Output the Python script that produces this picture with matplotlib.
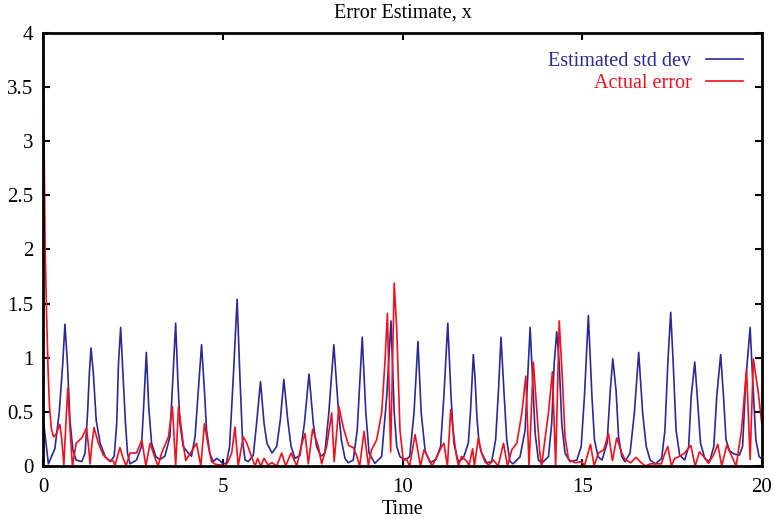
import matplotlib
matplotlib.use("Agg")
import matplotlib.pyplot as plt

title = "Error Estimate, x"
xlabel = "Time"
series_labels = ["Estimated std dev", "Actual error"]
xticks = [0, 5, 10, 15, 20]
yticks = [0, 0.5, 1, 1.5, 2, 2.5, 3, 3.5, 4]

blue_points = [
    (0.00, 0.45), (0.15, 0.02), (0.33, 0.16), (0.45, 0.49), (0.55, 0.95), (0.61, 1.31),
    (0.68, 0.95), (0.75, 0.42), (0.83, 0.15), (0.92, 0.055), (1.08, 0.04), (1.17, 0.12),
    (1.24, 0.49), (1.29, 0.86), (1.335, 1.09), (1.40, 0.86), (1.48, 0.42), (1.59, 0.21),
    (1.73, 0.086), (1.87, 0.04), (1.98, 0.09), (2.05, 0.39), (2.10, 0.95), (2.16, 1.28),
    (2.21, 0.95), (2.29, 0.42), (2.35, 0.12), (2.42, 0.02), (2.60, 0.055), (2.74, 0.18),
    (2.80, 0.55), (2.875, 1.05), (2.94, 0.55), (3.02, 0.21), (3.14, 0.086), (3.25, 0.06),
    (3.39, 0.09), (3.53, 0.27), (3.61, 0.80), (3.69, 1.32), (3.75, 0.80), (3.81, 0.39),
    (3.90, 0.18), (4.04, 0.12), (4.13, 0.09), (4.23, 0.27), (4.32, 0.70), (4.41, 1.12),
    (4.49, 0.70), (4.55, 0.33), (4.64, 0.12), (4.73, 0.04), (4.83, 0.07), (4.92, 0.05),
    (5.00, 0.02), (5.10, 0.025), (5.19, 0.18), (5.29, 0.80), (5.40, 1.54), (5.48, 0.80),
    (5.55, 0.24), (5.62, 0.055), (5.71, 0.04), (5.85, 0.10), (5.94, 0.39), (6.05, 0.78),
    (6.15, 0.39), (6.23, 0.21), (6.37, 0.12), (6.50, 0.18), (6.60, 0.42), (6.70, 0.80),
    (6.81, 0.42), (6.90, 0.18), (7.01, 0.07), (7.15, 0.10), (7.27, 0.39), (7.40, 0.85),
    (7.52, 0.39), (7.61, 0.18), (7.73, 0.09), (7.84, 0.12), (7.95, 0.49), (8.09, 1.12),
    (8.21, 0.55), (8.30, 0.24), (8.40, 0.07), (8.49, 0.03), (8.63, 0.055), (8.74, 0.33),
    (8.88, 1.19), (8.98, 0.49), (9.07, 0.12), (9.23, 0.025), (9.42, 0.086), (9.56, 0.64),
    (9.68, 1.34), (9.77, 0.49), (9.84, 0.18), (9.93, 0.086), (10.07, 0.055), (10.20, 0.086),
    (10.32, 0.49), (10.43, 1.15), (10.52, 0.49), (10.63, 0.14), (10.77, 0.03), (10.93, 0.06),
    (11.06, 0.18), (11.15, 0.64), (11.26, 1.32), (11.35, 0.64), (11.43, 0.21), (11.55, 0.04),
    (11.69, 0.07), (11.83, 0.21), (11.89, 0.49), (11.97, 1.03), (12.02, 0.80), (12.07, 0.45),
    (12.13, 0.21), (12.20, 0.12), (12.34, 0.03), (12.48, 0.04), (12.59, 0.24), (12.67, 0.70),
    (12.74, 1.19), (12.82, 0.70), (12.90, 0.24), (12.99, 0.04), (13.08, 0.02), (13.27, 0.086),
    (13.41, 0.33), (13.48, 0.80), (13.55, 1.28), (13.62, 0.80), (13.69, 0.30), (13.78, 0.055),
    (13.87, 0.025), (14.06, 0.086), (14.15, 0.39), (14.22, 0.95), (14.29, 1.24), (14.36, 0.95),
    (14.43, 0.39), (14.52, 0.12), (14.66, 0.04), (14.85, 0.055), (14.97, 0.18), (15.06, 0.64),
    (15.17, 1.39), (15.27, 0.64), (15.34, 0.24), (15.44, 0.086), (15.55, 0.055), (15.69, 0.21),
    (15.78, 0.70), (15.85, 0.99), (15.94, 0.70), (16.01, 0.27), (16.10, 0.086), (16.19, 0.04),
    (16.33, 0.12), (16.45, 0.49), (16.57, 1.05), (16.68, 0.49), (16.78, 0.18), (16.89, 0.055),
    (17.03, 0.02), (17.21, 0.07), (17.30, 0.33), (17.38, 0.95), (17.46, 1.42), (17.53, 0.95),
    (17.61, 0.33), (17.71, 0.10), (17.85, 0.055), (17.96, 0.18), (18.03, 0.64), (18.13, 0.96),
    (18.20, 0.64), (18.29, 0.21), (18.41, 0.07), (18.54, 0.04), (18.66, 0.18), (18.74, 0.64),
    (18.85, 1.03), (18.93, 0.64), (19.00, 0.24), (19.10, 0.14), (19.23, 0.11), (19.37, 0.10),
    (19.46, 0.18), (19.55, 0.80), (19.67, 1.28), (19.74, 0.80), (19.83, 0.24), (19.92, 0.086),
    (20.00, 0.065),
]

red_points = [
    (0.00, 4.00), (0.03, 3.00), (0.06, 2.00), (0.10, 1.40), (0.14, 0.90), (0.18, 0.55),
    (0.23, 0.35), (0.29, 0.27), (0.36, 0.29), (0.47, 0.385), (0.52, 0.25), (0.58, 0.01),
    (0.63, 0.35), (0.69, 0.72), (0.75, 0.35), (0.82, 0.00), (0.92, 0.21), (1.08, 0.26),
    (1.21, 0.35), (1.26, 0.20), (1.31, 0.02), (1.36, 0.20), (1.42, 0.354), (1.54, 0.21),
    (1.68, 0.10), (1.82, 0.055), (1.96, 0.046), (2.00, 0.00), (2.08, 0.10), (2.14, 0.17),
    (2.22, 0.08), (2.31, 0.00), (2.42, 0.12), (2.60, 0.12), (2.75, 0.24), (2.86, 0.00),
    (2.98, 0.21), (3.10, 0.09), (3.20, 0.00), (3.30, 0.12), (3.49, 0.27), (3.60, 0.55),
    (3.69, 0.00), (3.77, 0.55), (3.90, 0.21), (3.97, 0.05), (4.10, 0.12), (4.27, 0.21),
    (4.39, 0.00), (4.49, 0.39), (4.60, 0.18), (4.69, 0.04), (4.80, 0.015), (4.95, 0.01),
    (5.06, 0.00), (5.15, 0.04), (5.25, 0.12), (5.34, 0.36), (5.43, 0.00), (5.57, 0.27),
    (5.67, 0.21), (5.80, 0.086), (5.90, 0.00), (5.97, 0.07), (6.06, 0.00), (6.15, 0.07),
    (6.26, 0.01), (6.37, 0.03), (6.50, 0.00), (6.64, 0.12), (6.75, 0.00), (6.90, 0.12),
    (7.06, 0.00), (7.20, 0.21), (7.29, 0.30), (7.38, 0.02), (7.50, 0.34), (7.66, 0.18),
    (7.75, 0.02), (7.89, 0.18), (8.03, 0.49), (8.10, 0.04), (8.23, 0.55), (8.35, 0.36),
    (8.50, 0.19), (8.63, 0.17), (8.72, 0.10), (8.81, 0.00), (8.93, 0.32), (9.05, 0.01),
    (9.14, 0.15), (9.28, 0.24), (9.42, 0.49), (9.51, 0.95), (9.58, 1.41), (9.67, 0.13),
    (9.77, 1.69), (9.84, 1.26), (9.93, 0.33), (10.02, 0.055), (10.10, 0.07), (10.20, 0.00),
    (10.35, 0.29), (10.50, 0.00), (10.60, 0.15), (10.77, 0.04), (10.82, 0.00), (10.90, 0.05),
    (11.09, 0.18), (11.15, 0.21), (11.25, 0.00), (11.34, 0.52), (11.43, 0.27), (11.50, 0.09),
    (11.56, 0.00), (11.64, 0.09), (11.80, 0.04), (11.85, 0.00), (11.95, 0.16), (12.00, 0.00),
    (12.11, 0.26), (12.20, 0.12), (12.30, 0.035), (12.40, 0.01), (12.53, 0.055), (12.66, 0.00),
    (12.81, 0.21), (12.92, 0.00), (13.04, 0.15), (13.18, 0.21), (13.32, 0.49), (13.43, 0.83),
    (13.52, 0.00), (13.64, 0.96), (13.74, 0.49), (13.82, 0.12), (13.87, 0.00), (13.96, 0.24),
    (14.06, 0.49), (14.17, 0.87), (14.26, 0.00), (14.36, 1.34), (14.45, 0.79), (14.52, 0.27),
    (14.62, 0.06), (14.80, 0.03), (14.99, 0.04), (15.06, 0.00), (15.23, 0.20), (15.33, 0.00),
    (15.45, 0.12), (15.60, 0.15), (15.73, 0.30), (15.84, 0.05), (15.96, 0.26), (16.10, 0.12),
    (16.19, 0.06), (16.35, 0.03), (16.50, 0.08), (16.61, 0.04), (16.75, 0.00), (16.90, 0.02),
    (17.20, 0.02), (17.30, 0.12), (17.38, 0.18), (17.48, 0.00), (17.57, 0.07), (17.71, 0.09),
    (17.85, 0.12), (18.02, 0.19), (18.14, 0.00), (18.26, 0.13), (18.37, 0.09), (18.51, 0.025),
    (18.65, 0.10), (18.77, 0.20), (18.88, 0.00), (19.02, 0.19), (19.16, 0.09), (19.28, 0.00),
    (19.43, 0.33), (19.57, 0.89), (19.67, 0.06), (19.76, 0.99), (19.90, 0.67), (20.00, 0.37),
]

blue_t = [p[0] for p in blue_points]
blue_v = [p[1] for p in blue_points]
red_t = [p[0] for p in red_points]
red_v = [p[1] for p in red_points]

plt.rcParams['font.family'] = ['Liberation Serif', 'DejaVu Serif']

fig = plt.figure(figsize=(7.74, 5.19), dpi=100)
ax = fig.add_axes([43 / 774, 1 - 466 / 519, (762 - 43) / 774, (466 - 33) / 519])

blue_c = '#2a2a96'
red_c = '#f0101e'
ax.plot(blue_t, blue_v, color=blue_c, lw=1.2, label=series_labels[0], zorder=2,
        solid_joinstyle='round')
ax.plot(red_t, red_v, color=red_c, lw=1.2, label=series_labels[1], zorder=3,
        solid_joinstyle='round')

ax.set_xlim(0, 20)
ax.set_ylim(0, 4)
ax.set_xticks(xticks)
ax.set_xticklabels([str(v) for v in xticks])
ax.set_yticks(yticks)
ax.set_yticklabels([('%g' % v) for v in yticks])
ax.tick_params(direction='in', length=5, width=1.5, top=True, right=True,
               labelsize=15, colors='black')
ax.tick_params(axis='x', pad=9)
ax.tick_params(axis='y', pad=7)
for s in ax.spines.values():
    s.set_linewidth(2)
    s.set_zorder(5)

ax.set_title(title, fontsize=14.5, pad=11)
ax.set_xlabel(xlabel, fontsize=14.5, labelpad=2)

leg = ax.legend(loc='upper right', frameon=False, markerfirst=False,
                fontsize=14.5, labelcolor='linecolor', handlelength=1.85,
                handletextpad=0.7, borderaxespad=0.55, labelspacing=0.12,
                borderpad=0.4)
for t in leg.get_texts():
    t.set_ha('right')

fig.savefig('out.png', dpi=100)
